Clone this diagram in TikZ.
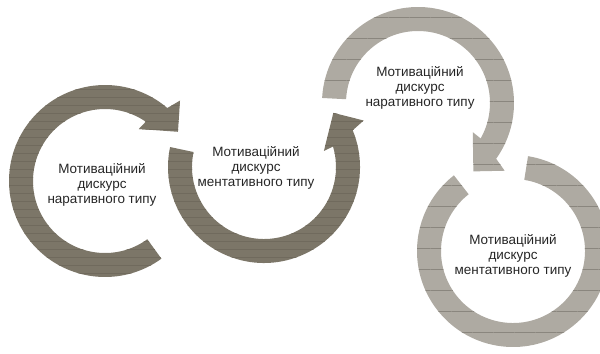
\documentclass[tikz,border=0pt]{standalone}
\usepackage{fontspec}
\setmainfont{Liberation Sans}
\usetikzlibrary{patterns.meta}

\definecolor{darkring}{RGB}{124,118,104}
\definecolor{darkline}{RGB}{112,106,93}
\definecolor{lightring}{RGB}{174,170,162}
\definecolor{lightline}{RGB}{138,134,126}

% ring with head: centre, tail angle, head angle, turn (+1 ccw, -1 cw), style
\newcommand{\headring}[5]{%
  \begin{scope}[shift={#1}]
    \path[#5] ({#3}:110) -- ({#3-2.5*#4}:96)
      arc[start angle={#3-2.5*#4}, end angle={#2}, radius=96]
      -- ({#2}:72)
      arc[start angle={#2}, end angle={#3-8.5*#4}, radius=72]
      -- ({#3-10*#4}:62) -- ({#3+13*#4}:88) -- cycle;
  \end{scope}}

\begin{document}
\begin{tikzpicture}[%
    x=0.3mm, y=0.3mm,
    darkarc/.style={fill=darkring,
      postaction={pattern={Lines[distance=2.4mm,line width=0.3pt]},pattern color=darkline}},
    lightarc/.style={fill=lightring,
      postaction={pattern={Lines[distance=6.3mm,line width=0.5pt]},pattern color=lightline}},
    caption/.style={align=center, text=black!85,
      font=\fontsize{11.5}{12.8}\selectfont}
  ]
  \useasboundingbox (0,0) rectangle (600,353);
  \clip (0,0) rectangle (600,353);

  \headring{(105,172)}{306}{47}{-1}{darkarc}
  \headring{(264,186)}{-192}{25}{1}{darkarc}
  \headring{(418,250)}{177}{-38}{-1}{lightarc}
  \begin{scope}[shift={(513,102)}]
    \path[lightarc] (128:96) arc[start angle=128, end angle=441, radius=96]
      -- (441:72) arc[start angle=441, end angle=128, radius=72] -- cycle;
  \end{scope}

  \node[caption] (narrone)  at (102,168) {Мотиваційний\\дискурс\\наративного типу};
  \node[caption] (mentone)  at (256,185) {Мотиваційний\\дискурс\\ментативного типу};
  \node[caption] (narrtwo)  at (420,265) {Мотиваційний\\дискурс\\наративного типу};
  \node[caption] (menttwo)  at (513,97)  {Мотиваційний\\дискурс\\ментативного типу};
\end{tikzpicture}
\end{document}
